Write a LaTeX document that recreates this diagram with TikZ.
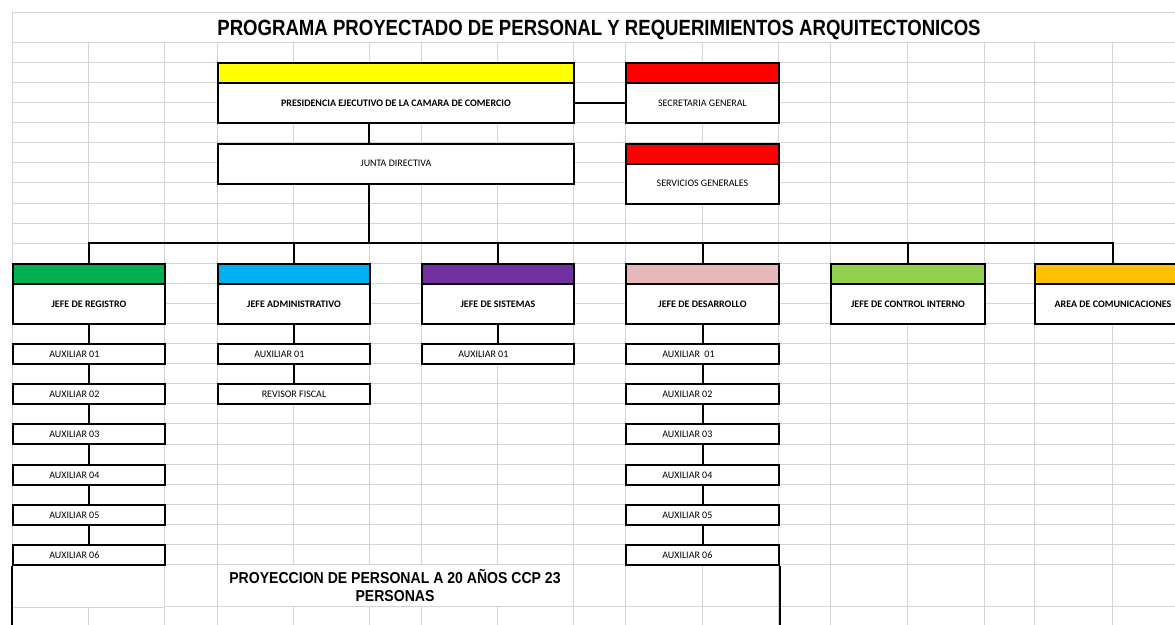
\documentclass[tikz,border=0pt]{standalone}
\usepackage{fontspec}
\newfontfamily\boxfont{Carlito}
\newfontfamily\titlefont[FakeStretch=0.845]{Liberation Sans}
\newfontfamily\projfont[FakeStretch=0.89]{Liberation Sans}
\definecolor{gridc}{HTML}{D4D4D4}
\definecolor{cyellow}{HTML}{FFFF00}
\definecolor{cred}{HTML}{FF0000}
\definecolor{cgreen}{HTML}{00B050}
\definecolor{cblue}{HTML}{00B0F0}
\definecolor{cpurple}{HTML}{7030A0}
\definecolor{cpink}{HTML}{E6B8B7}
\definecolor{clime}{HTML}{92D050}
\definecolor{cgold}{HTML}{FFC000}
\newcommand\cellbox[7]{\node[#1, anchor=north west, minimum width={(#5-#3)*0.75pt}, minimum height={(#6-#4)*0.75pt}] (#2) at (#3,#4) {#7};}
\newcommand\auxbox[5]{\node[orgbox, anchor=north west, minimum width={(#4-#2)*0.75pt}, minimum height=15pt] (#1) at (#2,#3) {\makebox[\dimexpr(#4pt-#2pt)*3/4\relax][l]{\hspace*{27.2pt}#5}};}
\tikzset{
  gridline/.style={draw=gridc, line width=0.75pt},
  orgbox/.style={draw=black, line width=1.5pt, fill=white, inner sep=0pt, font=\boxfont\fontsize{7.5pt}{9pt}\selectfont, text=black},
  boldbox/.style={orgbox, font=\boxfont\bfseries\fontsize{7.5pt}{9pt}\selectfont},
  bar/.style={draw=black, line width=1.5pt, fill=#1, inner sep=0pt},
  conn/.style={draw=black, line width=1.5pt},
  mergedcell/.style={draw=gridc, line width=0.75pt, fill=white, inner sep=0pt}
}
\begin{document}
\begin{tikzpicture}[x=0.75pt, y=-0.75pt]
\useasboundingbox (0,0) rectangle (1175,625);
\clip (0,0) rectangle (1175,625);
\fill[white] (0,0) rectangle (1175,625);
% spreadsheet grid
\draw[gridline] (12,12) -- (12,625);
\foreach \x in {88,164,217,293,369,421,497,573,625,702,778,830,907,984,1034,1112}
  \draw[gridline] (\x,42) -- (\x,625);
\foreach \y in {12,42,62,82,102,122,142.5,162.5,182.5,203,223,243,263,283,303,323,343,363,383,403,423,444,464,484,504,524,544,564,606.5}
  \draw[gridline] (12,\y) -- (1175,\y);
% merged cells
\cellbox{mergedcell}{titlecell}{12}{12}{1190}{42}{}
\node[anchor=base, inner sep=0pt, font=\titlefont\bfseries\fontsize{16.5pt}{18pt}\selectfont] (title) at (599,35) {PROGRAMA PROYECTADO DE PERSONAL Y REQUERIMIENTOS ARQUITECTONICOS};
\cellbox{mergedcell}{leftcell}{12}{564}{164}{606.5}{}
\node[mergedcell, minimum width=267pt, minimum height=31.9pt, align=center, font=\projfont\bfseries\fontsize{11.85pt}{14pt}\selectfont] (proj) at (395,585.5) {PROYECCION DE PERSONAL A 20 AÑOS CCP 23\\PERSONAS};
% top level
\cellbox{bar=cyellow}{presbar}{217}{62}{573}{82}{}
\cellbox{boldbox}{pres}{217}{82}{573}{122}{PRESIDENCIA EJECUTIVO DE LA CAMARA DE COMERCIO}
\cellbox{bar=cred}{secbar}{625}{62}{778}{82}{}
\cellbox{orgbox}{sec}{625}{82}{778}{122}{SECRETARIA GENERAL}
\cellbox{orgbox}{junta}{217}{142.5}{573}{182.5}{JUNTA DIRECTIVA}
\cellbox{bar=cred}{servbar}{625}{142.5}{778}{162.5}{}
\cellbox{orgbox}{serv}{625}{162.5}{778}{203}{SERVICIOS GENERALES}
% jefes
\cellbox{bar=cgreen}{regbar}{12}{263}{164}{283}{}
\cellbox{boldbox}{reg}{12}{283}{164}{323}{JEFE DE REGISTRO}
\cellbox{bar=cblue}{admbar}{217}{263}{369}{283}{}
\cellbox{boldbox}{adm}{217}{283}{369}{323}{JEFE ADMINISTRATIVO}
\cellbox{bar=cpurple}{sisbar}{421}{263}{573}{283}{}
\cellbox{boldbox}{sis}{421}{283}{573}{323}{JEFE DE SISTEMAS}
\cellbox{bar=cpink}{desbar}{625}{263}{778}{283}{}
\cellbox{boldbox}{des}{625}{283}{778}{323}{JEFE DE DESARROLLO}
\cellbox{bar=clime}{ctlbar}{830}{263}{984}{283}{}
\cellbox{boldbox}{ctl}{830}{283}{984}{323}{JEFE DE CONTROL INTERNO}
\cellbox{bar=cgold}{combar}{1034}{263}{1190}{283}{}
\cellbox{boldbox}{com}{1034}{283}{1190}{323}{AREA DE COMUNICACIONES}
% auxiliares registro
\auxbox{r1}{12}{343}{164}{AUXILIAR 01}
\auxbox{r2}{12}{383}{164}{AUXILIAR 02}
\auxbox{r3}{12}{423}{164}{AUXILIAR 03}
\auxbox{r4}{12}{464}{164}{AUXILIAR 04}
\auxbox{r5}{12}{504}{164}{AUXILIAR 05}
\auxbox{r6}{12}{544}{164}{AUXILIAR 06}
% administrativo
\auxbox{a1}{217}{343}{369}{AUXILIAR 01}
\cellbox{orgbox}{a2}{217}{383}{369}{403}{REVISOR FISCAL}
% sistemas
\auxbox{s1}{421}{343}{573}{AUXILIAR 01}
% desarrollo
\auxbox{d1}{625}{343}{778}{AUXILIAR\ \ 01}
\auxbox{d2}{625}{383}{778}{AUXILIAR 02}
\auxbox{d3}{625}{423}{778}{AUXILIAR 03}
\auxbox{d4}{625}{464}{778}{AUXILIAR 04}
\auxbox{d5}{625}{504}{778}{AUXILIAR 05}
\auxbox{d6}{625}{544}{778}{AUXILIAR 06}
% connectors
\coordinate (trunk) at (369,0);
\coordinate (bus) at (0,243);
\coordinate (bottom) at (0,630);
\draw[conn] (pres.east) -- (sec.west);
\draw[conn] (pres.south -| trunk) -- (junta.north -| trunk);
\draw[conn] (junta.south -| trunk) -- (bus -| trunk);
\draw[conn] (regbar.north) -- (regbar.north |- bus) -- (combar.north |- bus) -- (combar.north);
\draw[conn] (admbar.north) -- (admbar.north |- bus);
\draw[conn] (sisbar.north) -- (sisbar.north |- bus);
\draw[conn] (desbar.north) -- (desbar.north |- bus);
\draw[conn] (ctlbar.north) -- (ctlbar.north |- bus);
\draw[conn] (reg.south) -- (r1.north);
\draw[conn] (r1.south) -- (r2.north);
\draw[conn] (r2.south) -- (r3.north);
\draw[conn] (r3.south) -- (r4.north);
\draw[conn] (r4.south) -- (r5.north);
\draw[conn] (r5.south) -- (r6.north);
\draw[conn] (adm.south) -- (a1.north);
\draw[conn] (a1.south) -- (a2.north);
\draw[conn] (sis.south) -- (s1.north);
\draw[conn] (des.south) -- (d1.north);
\draw[conn] (d1.south) -- (d2.north);
\draw[conn] (d2.south) -- (d3.north);
\draw[conn] (d3.south) -- (d4.north);
\draw[conn] (d4.south) -- (d5.north);
\draw[conn] (d5.south) -- (d6.north);
\draw[conn] (r6.south west) -- (r6.south west |- bottom);
\draw[conn] (d6.south east) -- (d6.south east |- bottom);
\end{tikzpicture}
\end{document}
